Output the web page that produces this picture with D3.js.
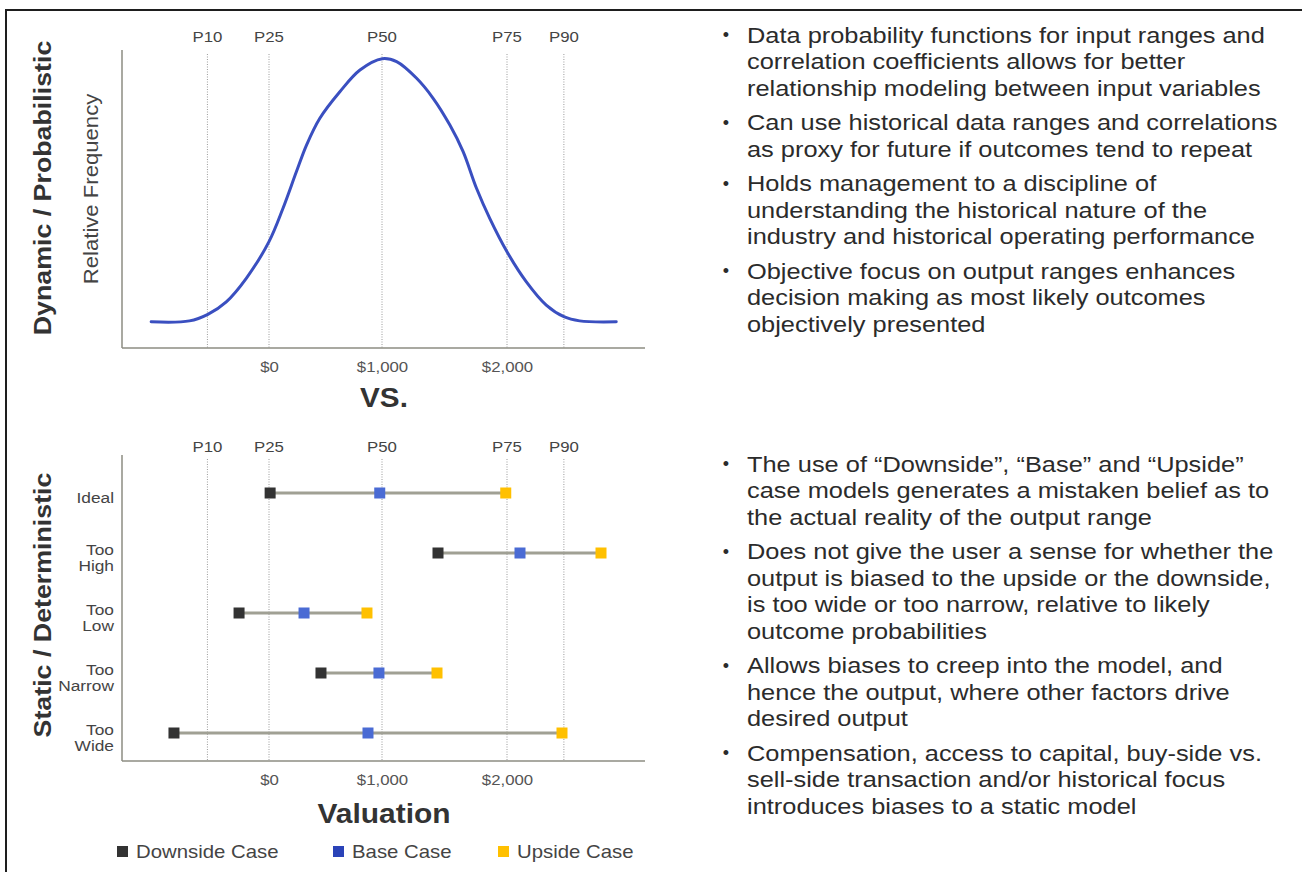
<!DOCTYPE html>
<html><head><meta charset="utf-8">
<script src="https://cdn.jsdelivr.net/npm/d3@7/dist/d3.min.js"></script>
<style>
body{margin:0;background:#fff}
svg{display:block}
text{font-family:"Liberation Sans",Arial,Helvetica,sans-serif}
</style>
</head><body>
<svg id="chart" width="1302" height="872"></svg>
<script>
// ---------- data ----------
const percentileLabels = ["P10", "P25", "P50", "P75", "P90"];
const percentileValues = [-545, 0, 1000, 2000, 2455];
const tickValues = [0, 1000, 2000];

// probability curve (valuation, relative frequency)
const curveValue = [-1043, -704, -541, -378, -201, 0, 124, 243, 332, 450, 627, 805, 1003, 1117, 1277, 1409, 1543, 1649, 1756, 1862, 2000, 2155, 2314, 2455, 2581, 2874];
const curveFreq  = [8.8, 9.1, 11.3, 15.5, 23.4, 35.7, 46.9, 59.2, 68.1, 77.1, 86.0, 93.3, 97.1, 96.1, 90.5, 83.8, 74.8, 65.9, 53.6, 43.5, 32.3, 22.2, 14.4, 10.5, 9.1, 8.8];

// static cases
const categories = ["Ideal", "Too High", "Too Low", "Too Narrow", "Too Wide"];
const downside = [10, 1448, -265, 460, -841];
const baseCase = [980, 2104, 310, 973, 876];
const upside   = [1990, 2752, 867, 1440, 2440];
const seriesNames = ["Downside Case", "Base Case", "Upside Case"];

const bulletsTop = [
  ["Data probability functions for input ranges and", "correlation coefficients allows for better", "relationship modeling between input variables"],
  ["Can use historical data ranges and correlations", "as proxy for future if outcomes tend to repeat"],
  ["Holds management to a discipline of", "understanding the historical nature of the", "industry and historical operating performance"],
  ["Objective focus on output ranges enhances", "decision making as most likely outcomes", "objectively presented"]
];
const bulletsBottom = [
  ["The use of \u201cDownside\u201d, \u201cBase\u201d and \u201cUpside\u201d", "case models generates a mistaken belief as to", "the actual reality of the output range"],
  ["Does not give the user a sense for whether the", "output is biased to the upside or the downside,", "is too wide or too narrow, relative to likely", "outcome probabilities"],
  ["Allows biases to creep into the model, and", "hence the output, where other factors drive", "desired output"],
  ["Compensation, access to capital, buy-side vs.", "sell-side transaction and/or historical focus", "introduces biases to a static model"]
];

// ---------- styles ----------
const C = {
  axis: "#8c8c82", dotted: "#9a9a9a", curve: "#3a4fc0", range: "#a0a094",
  down: "#333333", base: "#4a6bd4", up: "#ffc000", legendBase: "#2a43b8",
  text: "#2b2b2b", tick: "#555555"
};

const svg = d3.select("#chart");

function label(g, x, y, str, o) {
  const grp = g.append("g")
    .attr("transform", `translate(${x},${y}) rotate(${o.rotate || 0}) scale(${o.sx || 1},1)`);
  grp.append("text")
    .attr("text-anchor", o.anchor || "middle")
    .attr("dy", "0.35em")
    .attr("font-size", o.size)
    .attr("font-weight", o.weight || "normal")
    .attr("fill", o.fill || C.text)
    .text(str);
  return grp;
}

// frame
svg.append("path").attr("d", "M6,872V10H1302").attr("fill", "none").attr("stroke", "#1e1e1e").attr("stroke-width", 2);

// shared x scale
const x = d3.scaleLinear().domain([0, 1000, 2000]).range([269, 382, 507]);

function panel(top, bottom, labelY) {
  const g = svg.append("g");
  g.selectAll("line.pct").data(percentileValues).join("line")
    .attr("x1", d => x(d)).attr("x2", d => x(d))
    .attr("y1", top + 4).attr("y2", bottom)
    .attr("stroke", C.dotted).attr("stroke-width", 1).attr("stroke-dasharray", "1,1.5");
  percentileLabels.forEach((p, i) => label(g, x(percentileValues[i]), labelY, p, {size: 15, sx: 1.12, fill: "#444"}));
  g.append("line").attr("x1", 122).attr("x2", 122).attr("y1", top).attr("y2", bottom).attr("stroke", C.axis).attr("stroke-width", 1.5);
  g.append("line").attr("x1", 122).attr("x2", 645).attr("y1", bottom).attr("y2", bottom).attr("stroke", C.axis).attr("stroke-width", 1.5);
  const ax = g.append("g").attr("transform", `translate(0,${bottom})`)
    .call(d3.axisBottom(x).tickValues(tickValues).tickFormat(d3.format("$,")).tickSize(0).tickPadding(0));
  ax.select(".domain").remove();
  ax.selectAll(".tick text").each(function() {
    d3.select(this).attr("font-size", 15).attr("fill", C.tick).attr("font-family", null)
     .attr("dy", "0.35em").attr("y", 0)
     .attr("transform", `translate(0,19) scale(1.12,1)`);
  });
  return g;
}

// ---------- top: probabilistic ----------
const gTop = panel(50, 348, 37);
const yF = d3.scaleLinear().domain([0, 100]).range([348, 50]);
const line = d3.line().x((d, i) => x(curveValue[i])).y((d, i) => yF(curveFreq[i])).curve(d3.curveCatmullRom.alpha(0.5));
gTop.append("path").datum(curveValue).attr("d", line)
  .attr("fill", "none").attr("stroke", C.curve).attr("stroke-width", 3).attr("stroke-linecap", "round");

label(svg, 43, 188, "Dynamic / Probabilistic", {size: 23.5, weight: "bold", rotate: -90, sx: 1.14, fill: "#333"});
label(svg, 91, 189, "Relative Frequency", {size: 19.4, rotate: -90, sx: 1.14, fill: "#444"});
label(svg, 384, 398, "VS.", {size: 27, weight: "bold", sx: 1.1, fill: "#333"});

// ---------- bottom: deterministic ----------
const gBot = panel(455, 761, 447);
const yC = d3.scalePoint().domain(categories).range([493, 733]);
const rows = categories.map((c, i) => ({c, vals: [downside[i], baseCase[i], upside[i]]}));
gBot.selectAll("line.rng").data(rows).join("line")
  .attr("x1", d => x(d3.min(d.vals))).attr("x2", d => x(d3.max(d.vals)))
  .attr("y1", d => yC(d.c)).attr("y2", d => yC(d.c))
  .attr("stroke", C.range).attr("stroke-width", 3);
const colors = [C.down, C.base, C.up];
const ms = 11;
rows.forEach(r => {
  r.vals.forEach((v, j) => {
    gBot.append("rect").attr("x", x(v) - ms / 2).attr("y", yC(r.c) - ms / 2)
      .attr("width", ms).attr("height", ms).attr("fill", colors[j]);
  });
  const parts = r.c.split(" ");
  const lh = 16;
  parts.forEach((p, k) => {
    const yy = yC(r.c) + 5 + (k - (parts.length - 1) / 2) * lh;
    label(gBot, 114, yy, p, {size: 15.2, anchor: "end", sx: 1.14, fill: "#444"});
  });
});

label(svg, 43, 605, "Static / Deterministic", {size: 23.5, weight: "bold", rotate: -90, sx: 1.14, fill: "#333"});
label(svg, 384, 813, "Valuation", {size: 28, weight: "bold", sx: 1.07, fill: "#333"});

// legend
const legendX = [117, 333, 498];
const legendColors = [C.down, C.legendBase, C.up];
seriesNames.forEach((n, i) => {
  svg.append("rect").attr("x", legendX[i]).attr("y", 846).attr("width", 11).attr("height", 11).attr("fill", legendColors[i]);
  label(svg, legendX[i] + 19, 852, n, {size: 17.7, anchor: "start", sx: 1.15, fill: "#444"});
});

// ---------- bullet text ----------
function bullets(list, y0) {
  const lh = 26.5, gap = 8;
  let y = y0;
  list.forEach(par => {
    label(svg, 726, y, "\u2022", {size: 18, anchor: "middle", fill: C.text});
    par.forEach(l => { label(svg, 747, y, l, {size: 22, anchor: "start", sx: 1.154, fill: C.text}); y += lh; });
    y += gap;
  });
}
bullets(bulletsTop, 35);
bullets(bulletsBottom, 464);
</script>
</body></html>
